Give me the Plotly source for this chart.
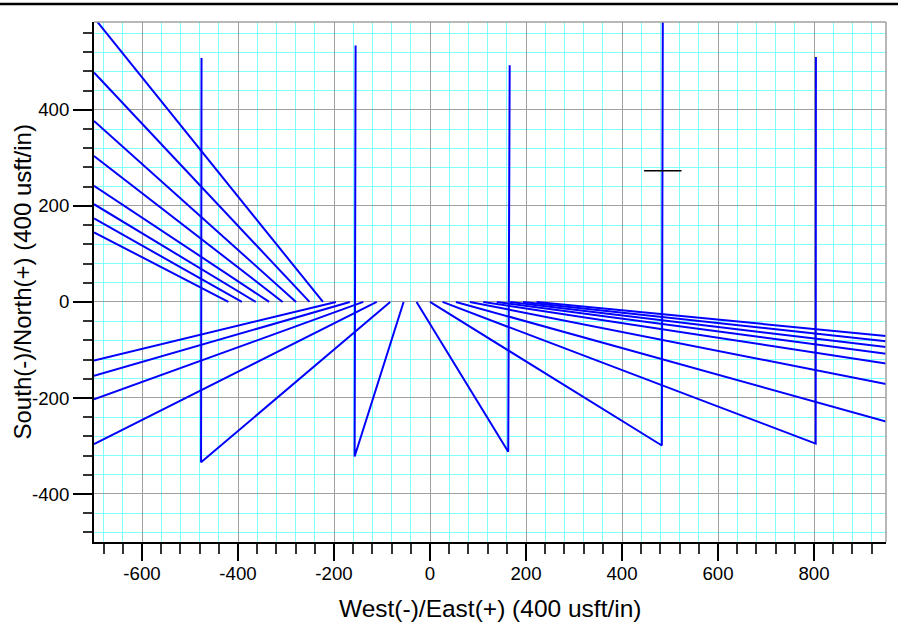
import plotly.graph_objects as go

# ---------------- data ----------------
X_RANGE = [-700, 950]
Y_RANGE = [-500, 583]

x_tickvals = [-600, -400, -200, 0, 200, 400, 600, 800]
x_ticktext = ["-600", "-400", "-200", "0", "200", "400", "600", "800"]
y_tickvals = [-400, -200, 0, 200, 400]
y_ticktext = ["-400", "-200", "0", "200", "400"]

# upper-left fan: from base point on y=0 to the west edge
ul_base_x = [-223, -251, -279, -307, -335, -363, -392, -420]
ul_edge_y = [592, 478, 377, 304, 242, 203.5, 174, 145]
ul_edge_x = -700

# lower-left fan
ll_base_x = [-196, -167, -139, -111]
ll_edge_y = [-122, -154, -203, -296]
ll_edge_x = -700

# lower-right fan
r_base_x = [54, 83, 111, 139, 167, 194, 222]
r_edge_y = [-249, -171, -128, -108, -94, -82, -71]
r_edge_x = 950

# well-like paths: top -> bottom -> back to base point on y=0
well_top_x = [-476, -155, 166, 485, 804]
well_top_y = [508, 534, 493, 600, 510]
well_bot_x = [-477, -157, 163, 483, 803.5]
well_bot_y = [-334, -322, -312, -299, -295]
well_base_x = [-83, -55, -28, 0, 26]

# small black marker
marker_x = [446, 524]
marker_y = [273, 273]

# ---------------- build ----------------
BLUE = "#0000ff"
LW = 2

def fan(base_x, edge_x, edge_y):
    xs, ys = [], []
    for bx, ey in zip(base_x, edge_y):
        xs += [bx, edge_x, None]
        ys += [0, ey, None]
    return xs, ys

fig = go.Figure()
for bx, ex, ey in [(ul_base_x, ul_edge_x, ul_edge_y),
                   (ll_base_x, ll_edge_x, ll_edge_y),
                   (r_base_x, r_edge_x, r_edge_y)]:
    xs, ys = fan(bx, ex, ey)
    fig.add_trace(go.Scatter(x=xs, y=ys, mode="lines",
                             line=dict(color=BLUE, width=LW),
                             hoverinfo="skip", showlegend=False))

wx, wy = [], []
for tx, ty, bx, by, px in zip(well_top_x, well_top_y, well_bot_x, well_bot_y, well_base_x):
    wx += [tx, bx, px, None]
    wy += [ty, by, 0, None]
fig.add_trace(go.Scatter(x=wx, y=wy, mode="lines",
                         line=dict(color=BLUE, width=LW),
                         hoverinfo="skip", showlegend=False))

fig.add_trace(go.Scatter(x=marker_x, y=marker_y, mode="lines",
                         line=dict(color="#000000", width=1.5),
                         hoverinfo="skip", showlegend=False))

FONT = "Liberation Sans, Arial, sans-serif"

def axis_style(ticklen, minorlen, standoff):
    return dict(
        showgrid=True, gridcolor="#a0a0a0", gridwidth=1.3,
        ticks="outside", ticklen=ticklen, tickwidth=2, tickcolor="#000000",
        showline=True, linecolor="#000000", linewidth=2,
        zeroline=False, tickmode="array", ticklabelstandoff=standoff,
        tickfont=dict(family=FONT, size=18.67, color="#000000"),
        minor=dict(dtick=40, tick0=0, ticks="outside", ticklen=minorlen, tickwidth=1.5,
                   tickcolor="#333333", showgrid=True, gridcolor="#80ffff", gridwidth=1),
    )

fig.update_layout(
    width=898, height=629,
    margin=dict(l=94, r=12, t=22, b=87, pad=0),
    paper_bgcolor="#ffffff", plot_bgcolor="#ffffff",
    xaxis=dict(range=X_RANGE, tickvals=x_tickvals, ticktext=x_ticktext, **axis_style(17, 10, -3)),
    yaxis=dict(range=Y_RANGE, tickvals=y_tickvals, ticktext=y_ticktext, **axis_style(19, 9, 0)),
    font=dict(family=FONT, color="#000000"),
    annotations=[
        dict(text="West(-)/East(+) (400 usft/in)", xref="paper", yref="paper",
             x=0.5, y=-0.128, xanchor="center", yanchor="middle", showarrow=False,
             font=dict(family=FONT, size=24.5, color="#000000")),
        dict(text="South(-)/North(+) (400 usft/in)", xref="paper", yref="paper",
             x=-0.0903, y=0.5, xanchor="center", yanchor="middle", showarrow=False,
             textangle=-90, font=dict(family=FONT, size=24, color="#000000")),
    ],
    shapes=[
        dict(type="line", xref="paper", yref="paper", x0=0, x1=1, y0=1, y1=1,
             line=dict(color="#a0a0a0", width=1.5)),
        dict(type="line", xref="paper", yref="paper", x0=1, x1=1, y0=0, y1=1,
             line=dict(color="#a0a0a0", width=1.5)),
        dict(type="line", xref="paper", yref="paper", x0=-0.2, x1=1.2, y0=1.0346, y1=1.0346,
             line=dict(color="#000000", width=2.5)),
    ],
)

fig.write_html("out.html",
               config={"displayModeBar": False},
               post_script="document.body.style.margin='0px';document.body.style.overflow='hidden';")
